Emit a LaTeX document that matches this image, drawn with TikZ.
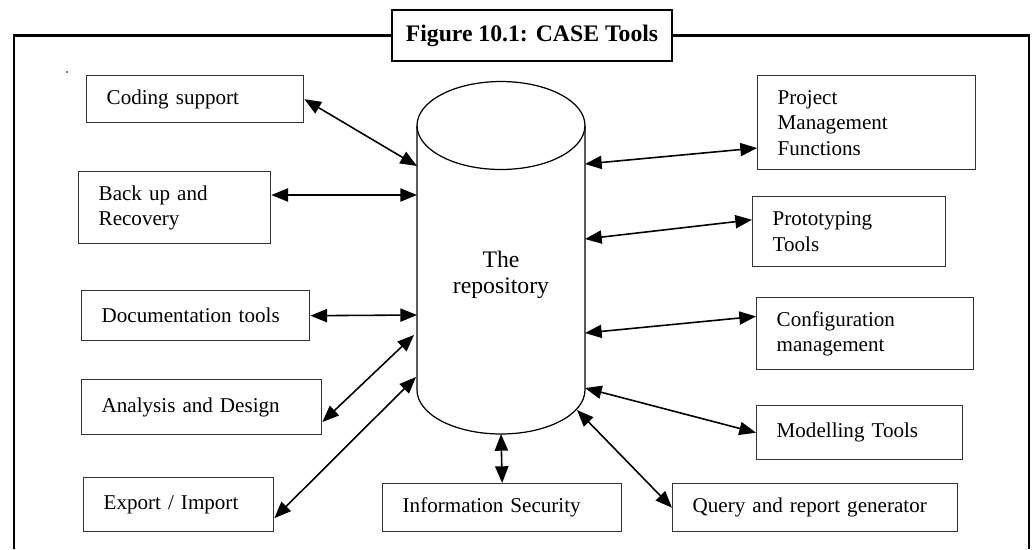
\documentclass[tikz,border=0pt]{standalone}
\usepackage{fontspec}
\setmainfont{Liberation Serif}
\usetikzlibrary{arrows.meta}
\tikzset{
  box/.style={draw=black!80, line width=0.8pt, anchor=north west, align=left, inner xsep=0.4cm, inner ysep=0pt, font=\fontsize{12}{14.5}\selectfont},
  link/.style={{Triangle[length=9.5pt,width=7.5pt]}-{Triangle[length=9.5pt,width=7.5pt]}, line width=0.9pt}
}
\begin{document}
\begin{tikzpicture}[x=0.02cm, y=-0.02cm]
    \useasboundingbox (0,0) rectangle (1032,549);
    \node[draw, line width=1.2pt, minimum width=5.6cm, minimum height=1.02cm, font=\fontsize{13.5}{15}\selectfont\bfseries] (title) at (532,35.5) {Figure 10.1: CASE Tools};
    \draw[line width=1.2pt] (14,549) |- (title.west);
    \draw[line width=1.2pt] (title.east) -| (1029,549);
    \fill (67,72) circle (0.5pt);
    \draw[line width=0.7pt] (501,125.5) ellipse [x radius=1.68cm, y radius=0.88cm];
    \draw[line width=0.7pt] (417,125.5) -- (417,390)
        arc [start angle=180, end angle=360, x radius=1.68cm, y radius=0.88cm] -- (585,125.5);
    \node[font=\fontsize{13.5}{15}\selectfont, align=center] (repo) at (501,275) {The\\repository};
    \node[box, text width=3.54cm, minimum height=0.94cm] (coding) at (86,75) {Coding support};
    \node[box, text width=3.04cm, minimum height=1.44cm] (backup) at (78,171) {Back up and\\Recovery};
    \node[box, text width=3.76cm, minimum height=1.0cm] (doc) at (81,290) {Documentation tools};
    \node[box, text width=4.0cm, minimum height=1.1cm] (analysis) at (81,379) {Analysis and Design};
    \node[box, text width=3.0cm, minimum height=1.08cm] (export) at (83,477) {Export / Import};
    \node[box, text width=3.98cm, minimum height=0.96cm] (infosec) at (382,483) {Information Security};
    \node[box, text width=4.9cm, minimum height=0.96cm] (query) at (672,483) {Query and report generator};
    \node[box, text width=3.32cm, minimum height=1.08cm] (model) at (756,405) {Modelling Tools};
    \node[box, text width=3.54cm, minimum height=1.44cm] (config) at (756,297) {Configuration\\management};
    \node[box, text width=3.06cm, minimum height=1.4cm] (proto) at (752,196) {Prototyping\\Tools};
    \node[box, text width=3.56cm, minimum height=1.88cm] (project) at (757,75) {Project\\Management\\Functions};
    \coordinate (l1) at (417,166);
    \coordinate (l2) at (417,195);
    \coordinate (l3) at (417,315);
    \coordinate (l4) at (414,335);
    \coordinate (l5) at (416,377);
    \coordinate (r1) at (585,164);
    \coordinate (r2) at (585,239);
    \coordinate (r3) at (585,333);
    \coordinate (r4) at (585,388);
    \coordinate (b1) at (577,410);
    \coordinate (b2) at (501,434);
    \draw[link] (coding.east) -- (l1);
    \draw[link] (backup.east |- l2) -- (l2);
    \draw[link] (doc.east) -- (l3);
    \draw[link] (analysis.-7) -- (l4);
    \draw[link] (export.-8) -- (l5);
    \draw[link] (r1) -- (project.193);
    \draw[link] (r2) -- (proto.173);
    \draw[link] (r3) -- (config.171);
    \draw[link] (r4) -- (model.west);
    \draw[link] (b1) -- (query.west);
    \draw[link] (b2) -- (infosec.north);
\end{tikzpicture}
\end{document}
